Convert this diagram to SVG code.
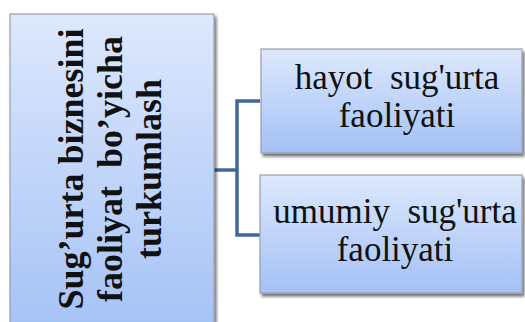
<svg xmlns="http://www.w3.org/2000/svg" width="525" height="322" viewBox="0 0 525 322">
  <defs>
    <linearGradient id="boxFill" x1="0" y1="0" x2="0" y2="1">
      <stop offset="0" stop-color="#dde8fc"/>
      <stop offset="1" stop-color="#a3c1f6"/>
    </linearGradient>
    <filter id="shadow" x="-10%" y="-10%" width="130%" height="130%">
      <feGaussianBlur in="SourceAlpha" stdDeviation="1.5"/>
      <feOffset dx="2" dy="3" result="blur"/>
      <feComponentTransfer><feFuncA type="linear" slope="0.55"/></feComponentTransfer>
      <feMerge><feMergeNode/><feMergeNode in="SourceGraphic"/></feMerge>
    </filter>
  </defs>
  <style>
    .box { fill: url(#boxFill); stroke: #9a9fa8; stroke-width: 1.2; filter: url(#shadow); }
    text { font-family: 'Liberation Serif', Tinos, 'Times New Roman', 'DejaVu Serif', serif; fill: #111; text-anchor: middle; }
    .title { font-weight: bold; font-size: 36px; }
    .label { font-size: 35px; }
    .link { fill: none; stroke: #41689a; stroke-width: 3.5; }
  </style>

  <g id="connectors">
    <path class="link" d="M214 170 H237 M260 101 H237 V235 H260"/>
  </g>

  <g id="root">
    <rect class="box" x="10" y="14" width="204" height="330"/>
    <g transform="translate(0,169) rotate(-90)">
      <text class="title" x="0" y="83" xml:space="preserve">Sug’urta biznesini</text>
      <text class="title" x="0" y="122" xml:space="preserve">faoliyat  bo’yicha</text>
      <text class="title" x="0" y="161">turkumlash</text>
    </g>
  </g>

  <g id="life">
    <rect class="box" x="261" y="49" width="261" height="104"/>
    <text class="label" x="397" y="89" xml:space="preserve">hayot  sug'urta</text>
    <text class="label" x="397" y="127">faoliyati</text>
  </g>

  <g id="general">
    <rect class="box" x="260" y="175" width="262" height="118"/>
    <text class="label" x="395" y="223" xml:space="preserve">umumiy  sug'urta</text>
    <text class="label" x="395" y="261">faoliyati</text>
  </g>
</svg>
